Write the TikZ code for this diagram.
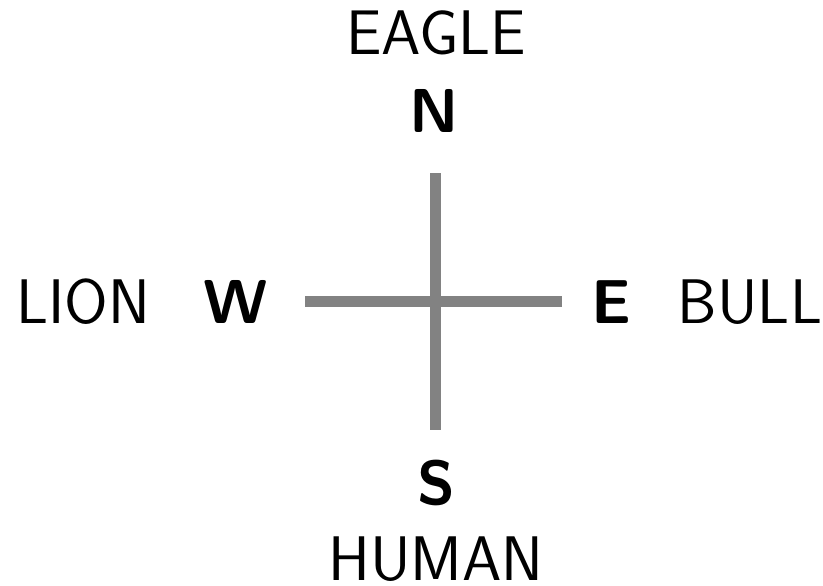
\documentclass[tikz,border=0pt]{standalone}
\usepackage{xcolor}
\usepackage{tikz}
\definecolor{crossgray}{RGB}{130,130,130}

\begin{document}
\begin{tikzpicture}[x=1pt,y=-1pt,
    animal/.style={anchor=base,inner sep=0pt,font=\fontsize{63}{65}\selectfont\sffamily},
    point/.style={anchor=base,inner sep=0pt,font=\fontsize{62}{64}\selectfont\sffamily\bfseries}]
  \useasboundingbox (0,0) rectangle (823,586);
  \coordinate (top) at (435,173);
  \coordinate (bottom) at (435,430);
  \coordinate (left) at (305,301);
  \coordinate (right) at (562,301);
  \draw[line width=11pt,crossgray] (top) -- (bottom);
  \draw[line width=11pt,crossgray] (left) -- (right);
  \node[animal] (eagle) at (436,55) {EAGLE};
  \node[point] (north) at (434,132) {N};
  \node[animal] (lion) at (83,323) {LION};
  \node[point] (west) at (236,323) {W};
  \node[point] (east) at (611,323) {E};
  \node[animal] (bull) at (750,323) {BULL};
  \node[point] (south) at (436,504) {S};
  \node[animal] (human) at (436,580) {HUMAN};
\end{tikzpicture}
\end{document}
